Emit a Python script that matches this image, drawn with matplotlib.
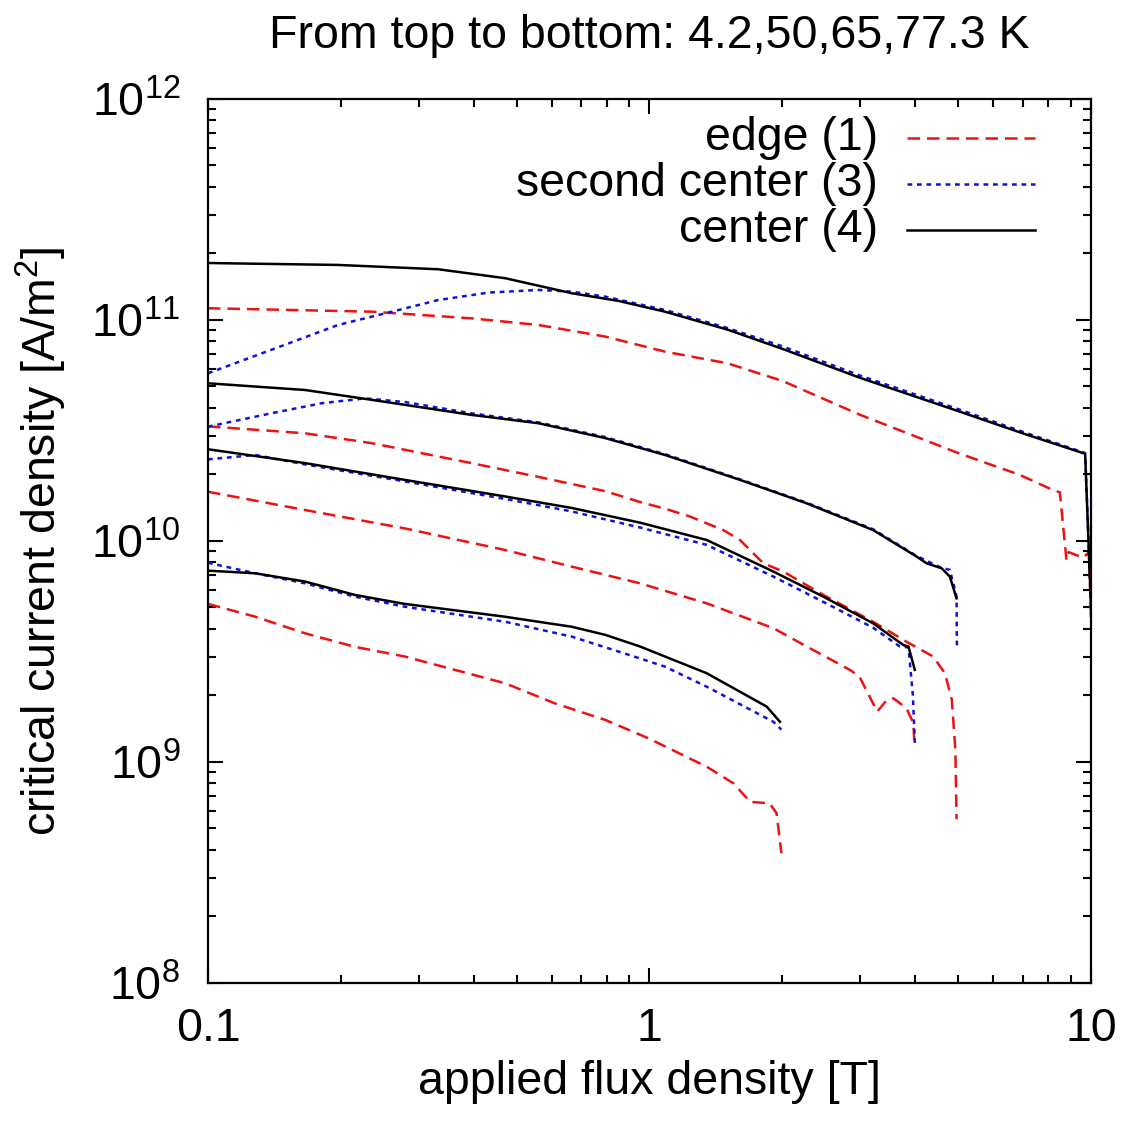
#!/usr/bin/env python3
"""Critical current density vs applied flux density, three positions, four temperatures."""
import matplotlib

matplotlib.use("Agg")
import matplotlib.pyplot as plt

# --- 4.2 K ---
edge_42_b = [0.1, 0.235, 0.395, 0.56, 0.794, 1.084, 1.5, 2.0, 3.0, 5.0, 6.9, 8.2, 8.5, 8.8, 8.9,
             9.6, 9.9, 10.0]
edge_42_j = [1.13e11, 1.09e11, 1.017e11, 9.49e10, 8.41e10, 7.19e10, 6.37e10, 5.3e10, 3.72e10, 2.5e10,
             1.99e10, 1.70e10, 1.66e10, 8.2e9, 8.9e9, 8.4e9, 8.9e9, 4.4e9]
second_42_b = [0.1, 0.139, 0.197, 0.261, 0.332, 0.432, 0.56, 0.667, 0.794, 1.084, 1.5, 2.0, 3.0, 5.0,
               7.0, 9.7, 10.0]
second_42_j = [5.74e10, 7.32e10, 9.49e10, 1.09e11, 1.23e11, 1.33e11, 1.367e11, 1.343e11, 1.275e11,
               1.11e11, 9.2e10, 7.6e10, 5.6e10, 3.95e10, 3.12e10, 2.5e10, 5e9]
center_42_b = [0.1, 0.197, 0.332, 0.471, 0.667, 0.85, 1.084, 1.5, 2.0, 3.0, 5.0, 7.0, 9.7, 10.0]
center_42_j = [1.81e11, 1.774e11, 1.696e11, 1.545e11, 1.321e11, 1.22e11, 1.09e11, 9.05e10, 7.4e10,
               5.47e10, 3.87e10, 3.07e10, 2.48e10, 5e9]

# --- 50 K ---
edge_50_b = [0.1, 0.166, 0.235, 0.395, 0.56, 0.794, 0.952, 1.084, 1.235, 1.47, 1.603, 1.718, 1.81,
             2.01, 2.476, 3.21, 3.82, 4.39, 4.67, 4.84, 4.93, 4.96]
edge_50_j = [3.3e10, 3.07e10, 2.77e10, 2.25e10, 1.95e10, 1.68e10, 1.50e10, 1.40e10, 1.29e10, 1.12e10,
             1.01e10, 8.8e9, 7.93e9, 7.27e9, 5.7e9, 4.31e9, 3.5e9, 3.0e9, 2.52e9, 1.91e9, 1.13e9,
             5.5e8]
second_50_b = [0.1, 0.139, 0.181, 0.227, 0.28, 0.395, 0.56, 0.794, 1.084, 1.603, 2.27, 3.21, 4.03,
               4.59, 4.79, 4.96, 4.97]
second_50_j = [3.29e10, 3.78e10, 4.2e10, 4.42e10, 4.25e10, 3.78e10, 3.44e10, 2.95e10, 2.47e10, 1.9e10,
               1.49e10, 1.13e10, 8.55e9, 7.55e9, 7.4e9, 5.6e9, 3.21e9]
center_50_b = [0.1, 0.166, 0.235, 0.395, 0.56, 0.794, 1.084, 1.603, 2.27, 3.21, 4.03, 4.24, 4.59,
               4.79, 4.96]
center_50_j = [5.17e10, 4.82e10, 4.35e10, 3.72e10, 3.41e10, 2.92e10, 2.45e10, 1.89e10, 1.48e10,
               1.12e10, 8.49e9, 7.93e9, 7.52e9, 6.9e9, 5.5e9]

# --- 65 K ---
edge_65_b = [0.1, 0.166, 0.279, 0.471, 0.667, 0.952, 1.348, 1.908, 2.27, 2.845, 2.99, 3.28, 3.45,
             3.57, 3.82, 3.96, 3.98]
edge_65_j = [1.67e10, 1.38e10, 1.14e10, 9.1e9, 7.65e9, 6.43e9, 5.22e9, 4.03e9, 3.33e9, 2.61e9, 2.43e9,
             1.69e9, 1.91e9, 1.94e9, 1.75e9, 1.5e9, 1.24e9]
second_65_b = [0.1, 0.128, 0.166, 0.279, 0.471, 0.667, 0.952, 1.348, 1.908, 2.476, 3.21, 3.69, 3.86,
               3.95, 3.99]
second_65_j = [2.34e10, 2.45e10, 2.22e10, 1.86e10, 1.55e10, 1.36e10, 1.15e10, 9.6e9, 6.9e9, 5.3e9,
               4.05e9, 3.33e9, 3.3e9, 2.0e9, 1.22e9]
center_65_b = [0.1, 0.166, 0.279, 0.471, 0.667, 0.952, 1.348, 1.908, 2.476, 3.21, 3.76, 3.86, 3.99]
center_65_j = [2.6e10, 2.25e10, 1.89e10, 1.59e10, 1.41e10, 1.21e10, 1.01e10, 7.27e9, 5.6e9, 4.24e9,
               3.38e9, 3.33e9, 2.61e9]

# --- 77.3 K ---
edge_77_b = [0.1, 0.128, 0.166, 0.215, 0.279, 0.471, 0.611, 0.794, 0.994, 1.35, 1.55, 1.69, 1.87,
             1.94, 1.99]
edge_77_j = [5.19e9, 4.54e9, 3.82e9, 3.32e9, 3.0e9, 2.27e9, 1.84e9, 1.55e9, 1.28e9, 9.5e8, 8.0e8,
             6.6e8, 6.5e8, 5.87e8, 3.86e8]
second_77_b = [0.1, 0.128, 0.166, 0.215, 0.279, 0.471, 0.667, 0.952, 1.084, 1.348, 1.908, 1.99]
second_77_j = [7.97e9, 7.14e9, 6.43e9, 5.6e9, 5.04e9, 4.31e9, 3.69e9, 2.94e9, 2.7e9, 2.19e9, 1.52e9,
               1.40e9]
center_77_b = [0.1, 0.128, 0.166, 0.215, 0.279, 0.471, 0.667, 0.794, 0.952, 1.084, 1.348, 1.843,
               1.975]
center_77_j = [7.34e9, 7.14e9, 6.55e9, 5.7e9, 5.19e9, 4.54e9, 4.09e9, 3.76e9, 3.33e9, 3.0e9, 2.52e9,
               1.78e9, 1.52e9]

series_labels = ["edge (1)", "second center (3)", "center (4)"]
title_text = "From top to bottom: 4.2,50,65,77.3 K"

EDGE = dict(color="#ee1111", lw=1.8, ls=(0, (5.0, 2.8)))
SECOND = dict(color="#1010e0", lw=1.8, ls=(0, (1.9, 1.9)))
CENTER = dict(color="black", lw=1.8, ls="-")


def main() -> None:
    plt.rcParams["font.family"] = ["Liberation Sans", "DejaVu Sans"]
    plt.rcParams["font.size"] = 33.5
    plt.rcParams["mathtext.default"] = "regular"

    fig = plt.figure(figsize=(11.26, 11.27), dpi=100)
    ax = fig.add_axes([0.1847, 0.1278, 0.7842, 0.7844])

    groups = [
        (edge_42_b, edge_42_j, second_42_b, second_42_j, center_42_b, center_42_j),
        (edge_50_b, edge_50_j, second_50_b, second_50_j, center_50_b, center_50_j),
        (edge_65_b, edge_65_j, second_65_b, second_65_j, center_65_b, center_65_j),
        (edge_77_b, edge_77_j, second_77_b, second_77_j, center_77_b, center_77_j),
    ]
    for eb, ej, sb, sj, cb, cj in groups:
        ax.plot(eb, ej, **EDGE)
        ax.plot(sb, sj, **SECOND)
        ax.plot(cb, cj, **CENTER)

    ax.set_xscale("log")
    ax.set_yscale("log")
    ax.set_xlim(0.1, 10)
    ax.set_ylim(1e8, 1e12)
    ax.set_xticks([0.1, 1, 10])
    ax.set_xticklabels(["0.1", "1", "10"])
    ax.tick_params(which="both", direction="in", top=True, right=True, width=1.5)
    ax.tick_params(which="major", length=11, pad=17)
    ax.tick_params(which="minor", length=6)
    ax.tick_params(axis="y", which="major", pad=20)
    for sp in ax.spines.values():
        sp.set_linewidth(1.6)

    ax.set_xlabel("applied flux density [T]", labelpad=7)
    ax.set_ylabel("critical current density [A/m$^2$]", labelpad=16)
    fig.text(0.577, 0.968, title_text, ha="center", va="center")

    # gnuplot-style key: label right-aligned, sample on the right
    styles = [EDGE, SECOND, CENTER]
    for i, (label, st) in enumerate(zip(series_labels, styles)):
        y = 0.956 - i * 0.052
        ax.text(0.759, y, label, transform=ax.transAxes, ha="right", va="center")
        ax.plot([0.792, 0.937], [y, y], transform=ax.transAxes, **st)

    fig.savefig("out.png", dpi=100)


if __name__ == "__main__":
    main()
